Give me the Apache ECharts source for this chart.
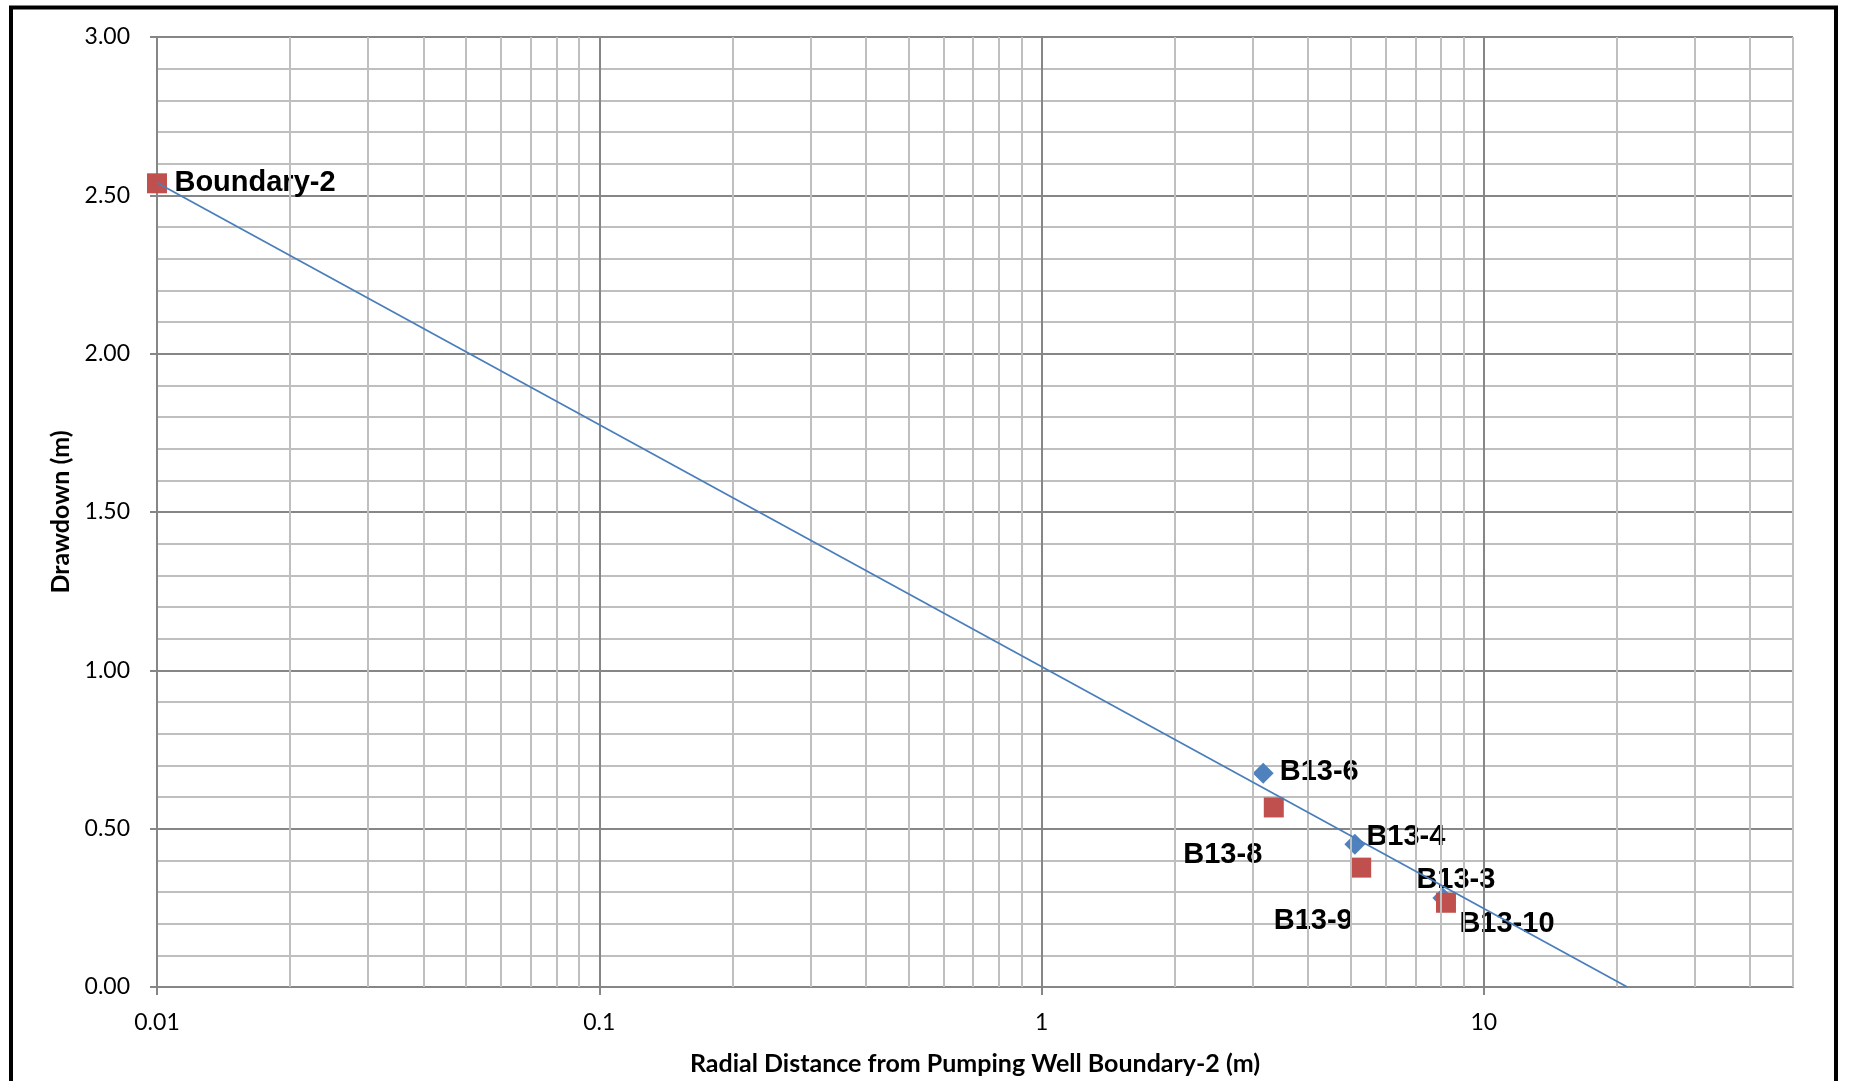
<!DOCTYPE html>
<html>
<head>
<meta charset="utf-8">
<script src="https://cdn.jsdelivr.net/npm/echarts@6/dist/echarts.min.js"></script>
<style>
html,body{margin:0;padding:0;background:#fff;}
#chart{width:1849px;height:1081px;}
</style>
</head>
<body>
<div id="chart"></div>
<script>
// ---- data ----
const blueNames = ['B13-6', 'B13-4', 'B13-3'];
const blueX = [3.17, 5.11, 8.08];
const blueY = [0.675, 0.451, 0.281];

const redNames = ['Boundary-2', 'B13-8', 'B13-9', 'B13-10'];
const redX = [0.01, 3.35, 5.28, 8.21];
const redY = [2.538, 0.567, 0.377, 0.266];

const trendX = [0.01, 21.1];
const trendY = [2.54, 0];

const xTickLabels = ['0.01', '0.1', '1', '10'];
const yTickLabels = ['0.00', '0.50', '1.00', '1.50', '2.00', '2.50', '3.00'];

// ---- layout (label placement, kept apart from data) ----
const blueLabelOffsets = [[56, -1], [51, -7], [13, -18]];
const redLabelOffsets = [[98, 0], [-51, 48], [-48, 53], [61, 21]];

const majorX = [0.1, 1, 10];
const minorX = [];
[0.01, 0.1, 1].forEach(function (d) { for (let k = 2; k <= 9; k++) minorX.push(+(d * k).toPrecision(6)); });
[20, 30, 40, 50].forEach(function (v) { minorX.push(v); });

function mkItems(names, xs, ys, offs) {
  return names.map(function (n, i) {
    return { name: n, value: [xs[i], ys[i]], label: { offset: offs[i] } };
  });
}

const LABEL_STYLE = {
  show: true, position: 'inside', formatter: '{b}',
  fontFamily: '"Liberation Sans", Arial, sans-serif', fontWeight: 'bold',
  fontSize: 29, color: '#000', textBorderWidth: 0, textBorderColor: 'transparent',
  align: 'center', verticalAlign: 'middle'
};

const chart = echarts.init(document.getElementById('chart'), null, { renderer: 'canvas' });
chart.setOption({
  animation: false,
  backgroundColor: '#fff',
  graphic: [{
    type: 'rect', z: 100, silent: true,
    shape: { x: 11, y: 7.5, width: 1825, height: 1200 },
    style: { fill: 'none', stroke: '#000', lineWidth: 4 }
  }],
  grid: { left: 157, top: 37, right: 56, bottom: 93, containLabel: false },
  xAxis: {
    type: 'log', logBase: 10, min: 0.01, max: 50,
    name: 'Radial Distance from Pumping Well Boundary-2 (m)',
    nameLocation: 'middle', nameGap: 64,
    nameTextStyle: { fontFamily: 'Lato', fontWeight: 'bold', fontSize: 25, color: '#000' },
    axisLine: { onZero: false, lineStyle: { color: '#868686', width: 2 } },
    axisTick: { show: true, length: 8, lineStyle: { color: '#868686', width: 2 } },
    axisLabel: {
      fontFamily: 'Lato', fontSize: 23, color: '#000', margin: 24,
      showMaxLabel: false,
      formatter: function (v) {
        const l = Math.log10(v);
        if (Math.abs(l - Math.round(l)) > 1e-6) return '';
        const idx = Math.round(l) + 2;
        return xTickLabels[idx] || '';
      }
    },
    splitLine: { show: false },
    minorTick: { show: false },
    minorSplitLine: { show: false }
  },
  yAxis: {
    type: 'value', min: 0, max: 3, interval: 0.5,
    name: 'Drawdown (m)', nameLocation: 'middle', nameGap: 83,
    nameTextStyle: { fontFamily: 'Lato', fontWeight: 'bold', fontSize: 25, color: '#000' },
    axisLine: { show: true, onZero: false, lineStyle: { color: '#868686', width: 2 } },
    axisTick: { show: true, length: 7, lineStyle: { color: '#868686', width: 2 } },
    axisLabel: {
      fontFamily: 'Lato', fontSize: 23, color: '#000', margin: 27,
      formatter: function (v) { return yTickLabels[Math.round(v / 0.5)]; }
    },
    splitLine: { show: true, lineStyle: { color: '#868686', width: 2 } },
    minorTick: { show: false, splitNumber: 5 },
    minorSplitLine: { show: true, lineStyle: { color: '#BFBFBF', width: 2 } }
  },
  series: [
    {
      type: 'scatter', data: [], z: 1, silent: true,
      markLine: {
        silent: true, symbol: 'none', animation: false,
        label: { show: false },
        data: minorX.map(function (v) { return { xAxis: v, lineStyle: { color: '#BFBFBF', width: 2, type: 'solid' } }; })
          .concat(majorX.map(function (v) { return { xAxis: v, lineStyle: { color: '#868686', width: 2, type: 'solid' } }; }))
      }
    },
    {
      type: 'scatter', name: 'Observation A', symbol: 'diamond', symbolSize: 21, z: 3,
      itemStyle: { color: '#4F81BD', opacity: 1 },
      label: LABEL_STYLE,
      data: mkItems(blueNames, blueX, blueY, blueLabelOffsets)
    },
    {
      type: 'scatter', name: 'Observation B', symbol: 'rect', symbolSize: 20, z: 4,
      itemStyle: { color: '#C0504D', opacity: 1 },
      label: LABEL_STYLE,
      data: mkItems(redNames, redX, redY, redLabelOffsets)
    },
    {
      type: 'line', name: 'Trend', z: 5, symbol: 'none',
      lineStyle: { color: '#4A7EBB', width: 1.75 },
      data: trendX.map(function (x, i) { return [x, trendY[i]]; })
    }
  ]
});
</script>
</body>
</html>
